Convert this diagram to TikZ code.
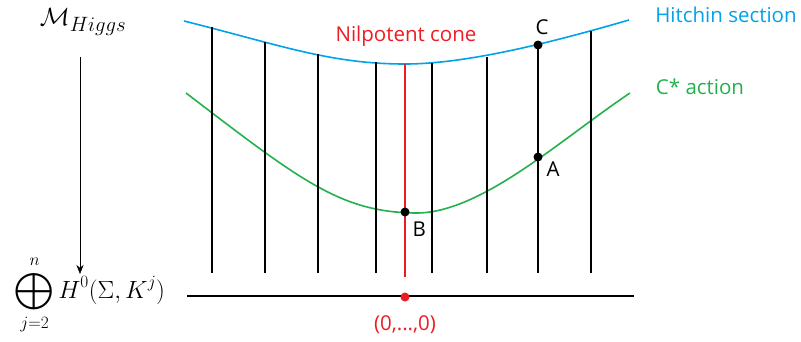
\documentclass[tikz,border=0pt]{standalone}
\usepackage{amsmath,amssymb}
\usepackage{fontspec}
\setmainfont{Open Sans}
\usetikzlibrary{arrows.meta,positioning}
\definecolor{hblue}{RGB}{0,162,232}
\definecolor{hred}{RGB}{237,28,36}
\definecolor{hgreen}{RGB}{34,177,76}

\begin{document}
\begin{tikzpicture}[x=1pt,y=-1pt,node distance=2pt,
  lbl/.style={inner sep=0pt,font=\fontsize{20.5}{24}\selectfont},
  dot/.style={circle,fill=black,inner sep=0pt,minimum size=9pt}]
\useasboundingbox (0,0) rectangle (801,341);
\draw[hblue,line width=1.6pt] (184,21) .. controls (280,45) and (330,64) .. (405,64)
  .. controls (470,64) and (560,40) .. (629,20);
\draw[hgreen,line width=1.6pt] (186,93) .. controls (300,180) and (340,212) .. (415,213)
  .. controls (480,214) and (560,140) .. (630,93);
\foreach \x/\t in {212/27,265/42,318/54,376/62,432/63,487/57,538/45,591/31} {
  \coordinate (t\x) at (\x,\t);
  \coordinate (b\x) at (\x,273);
  \draw[line width=1.5pt] (t\x) -- (b\x);
}
\coordinate (t405) at (405,64);
\coordinate (b405) at (405,277);
\draw[hred,line width=1.3pt] (t405) -- (b405);
\coordinate (axl) at (187,296);
\coordinate (axr) at (634,296);
\draw[line width=1.5pt] (axl) -- (axr);
\node (zero) [circle,fill=hred,inner sep=0pt,minimum size=9pt] at (405,297) {};
\node (zerolbl) [lbl,text=hred] at (405,325) {(0,...,0)};
\node (C) [dot] at (538,45) {};
\node (A) [dot] at (538,157) {};
\node (B) [dot] at (405,212) {};
\node (Clbl) [lbl,above right=7pt and -6pt of C] {C};
\node (Albl) [lbl,below right=1pt and 5pt of A] {A};
\node (Blbl) [lbl,below right=6pt and 4pt of B] {B};
\node (nil) [lbl,text=hred] at (406,36) {Nilpotent cone};
\node (hitchin) [lbl,text=hblue] at (726,15) {Hitchin section};
\node (cstar) [lbl,text=hgreen] at (700,87) {C* action};
\node (moduli) [inner sep=0pt,font=\fontsize{30}{34}\selectfont] at (83,22) {$\mathcal{M}_{Higgs}$};
\node (base) [inner sep=0pt,font=\fontsize{26}{30}\selectfont] at (90,295)
  {$\displaystyle\bigoplus_{j=2}^{n} H^0(\Sigma,K^j)$};
\coordinate (arrtop) at (80,57);
\coordinate (arrbot) at (80,274);
\draw[-{Stealth[length=9pt,width=7pt]}] (arrtop) -- (arrbot);
\end{tikzpicture}
\end{document}
